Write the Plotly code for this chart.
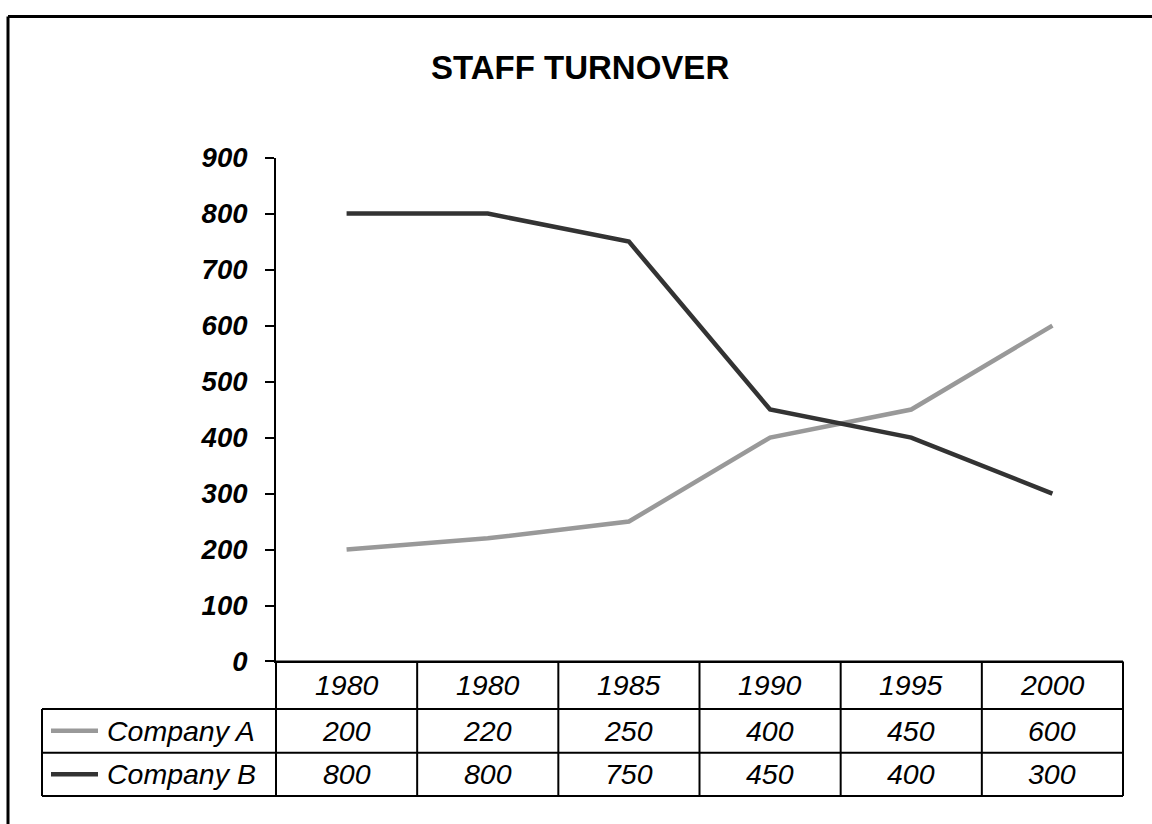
import plotly.graph_objects as go

# Chart data
title_text = "STAFF TURNOVER"
years = ["1980", "1980", "1985", "1990", "1995", "2000"]
series_names = ["Company A", "Company B"]
company_a = [200, 220, 250, 400, 450, 600]
company_b = [800, 800, 750, 450, 400, 300]
y_ticks = [0, 100, 200, 300, 400, 500, 600, 700, 800, 900]

W, H = 1152, 824
# Vertical placement of the figure within the captured page
PAGE_TOP = 12.3
PAGE_SCALE = 0.9676
FONT = "Liberation Sans, Arial, sans-serif"
colors = ["#999999", "#333333"]


def px(x):
    return x / W


def fig_y(y):
    """Page y (pixels from the top) -> figure pixel row."""
    return (y - PAGE_TOP) / PAGE_SCALE


def py(y):
    """Page y -> paper fraction."""
    return 1 - fig_y(y) / H


# Plot area / data table geometry (page pixels)
left, right = 276, 1123
top, base = 155.7, 662.3
row_edges = [base, 710, 754, 797.5]
table_left = 42
col_w = (right - left) / len(years)

fig = go.Figure()
xs = list(range(len(years)))
for name, vals, col in zip(series_names, [company_a, company_b], colors):
    fig.add_trace(go.Scatter(
        x=xs, y=vals, name=name, mode="lines",
        line=dict(color=col, width=4.5), hoverinfo="x+y+name",
    ))

shapes = []
annotations = []

# Outer frame (top and left edges visible)
frame_top = 1 - 1.5 / H
shapes.append(dict(type="line", xref="paper", yref="paper",
                   x0=px(8), y0=frame_top, x1=px(W + 5), y1=frame_top,
                   line=dict(color="black", width=3)))
shapes.append(dict(type="line", xref="paper", yref="paper",
                   x0=px(8), y0=frame_top, x1=px(8), y1=-0.05,
                   line=dict(color="black", width=3)))

tbl_line = dict(color="black", width=2)
# Horizontal rules of the data table
for i, y in enumerate(row_edges):
    x0 = left if i == 0 else table_left
    shapes.append(dict(type="line", xref="paper", yref="paper",
                       x0=px(x0), y0=py(y), x1=px(right), y1=py(y),
                       line=tbl_line))
# Vertical rules
for j in range(len(years) + 1):
    x = left + j * col_w
    shapes.append(dict(type="line", xref="paper", yref="paper",
                       x0=px(x), y0=py(base), x1=px(x), y1=py(row_edges[-1]),
                       line=tbl_line))
shapes.append(dict(type="line", xref="paper", yref="paper",
                   x0=px(table_left), y0=py(row_edges[1]),
                   x1=px(table_left), y1=py(row_edges[-1]), line=tbl_line))

cell_font = dict(family=FONT, size=28.5, color="black", style="italic")

# Header row with category labels
for j, label in enumerate(years):
    annotations.append(dict(
        xref="paper", yref="paper", x=px(left + (j + 0.5) * col_w),
        y=py((row_edges[0] + row_edges[1]) / 2), text=label,
        showarrow=False, xanchor="center", yanchor="middle", font=cell_font))

# Series rows: legend key, name and values
for r, (name, vals, col) in enumerate(zip(series_names, [company_a, company_b], colors)):
    yc = (row_edges[r + 1] + row_edges[r + 2]) / 2
    shapes.append(dict(type="line", xref="paper", yref="paper",
                       x0=px(51), y0=py(yc), x1=px(98), y1=py(yc),
                       line=dict(color=col, width=4.5)))
    annotations.append(dict(
        xref="paper", yref="paper", x=px(105), y=py(yc), text=name,
        showarrow=False, xanchor="left", yanchor="middle", font=cell_font))
    for j, v in enumerate(vals):
        annotations.append(dict(
            xref="paper", yref="paper", x=px(left + (j + 0.5) * col_w),
            y=py(yc), text=str(v), showarrow=False,
            xanchor="center", yanchor="middle", font=cell_font))

# Title
annotations.append(dict(
    xref="paper", yref="paper", x=px(580), y=py(65), text=title_text,
    showarrow=False, xanchor="center", yanchor="middle",
    font=dict(family=FONT, size=33, color="black", weight="bold")))

fig.update_layout(
    width=W, height=H,
    margin=dict(l=0, r=0, t=0, b=0),
    paper_bgcolor="white", plot_bgcolor="white",
    showlegend=False,
    shapes=shapes, annotations=annotations,
    xaxis=dict(
        domain=[px(left), px(right)],
        range=[-0.5, len(years) - 0.5],
        tickvals=xs, ticktext=years, showticklabels=False,
        ticks="", showgrid=False, zeroline=False,
        showline=True, linecolor="black", linewidth=2,
    ),
    yaxis=dict(
        domain=[py(base), py(top)],
        range=[0, 900], tickvals=y_ticks,
        showgrid=False, zeroline=False,
        showline=True, linecolor="black", linewidth=2,
        ticks="outside", ticklen=9, tickwidth=2, tickcolor="black",
        ticklabelstandoff=12,
        tickfont=dict(family=FONT, size=27.5, color="black",
                      weight="bold", style="italic"),
    ),
)

fig.write_html("out.html")
